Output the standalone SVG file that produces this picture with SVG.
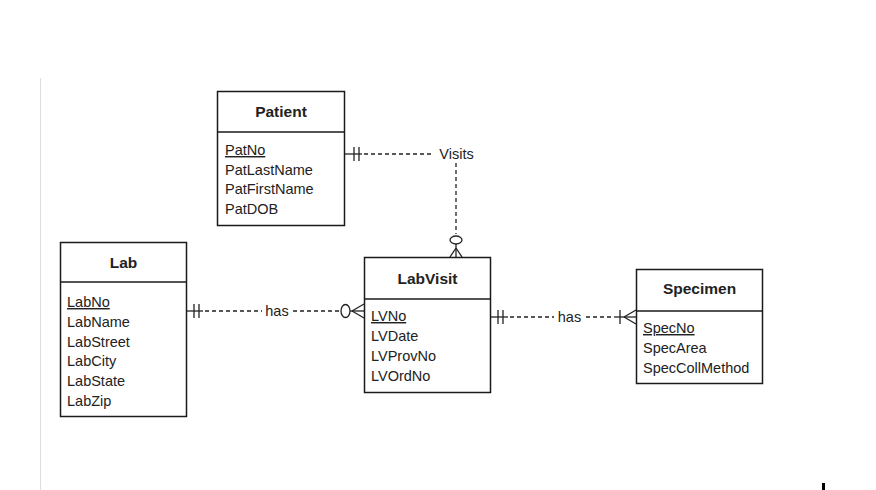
<svg xmlns="http://www.w3.org/2000/svg" width="876" height="490" viewBox="0 0 876 490">
<style>
.box{fill:#fff;stroke:#1a1a1a;stroke-width:1.5}
.div{stroke:#1a1a1a;stroke-width:1.5}
.title{font-family:"Liberation Sans",Arial,sans-serif;font-weight:bold;font-size:15.5px;fill:#222;text-anchor:middle}
.attr{font-family:"Liberation Sans",Arial,sans-serif;font-size:14.5px;fill:#222}
.pk{text-decoration:underline}
.lbl{font-family:"Liberation Sans",Arial,sans-serif;font-size:14.5px;fill:#222;text-anchor:middle}
.dash{stroke:#222;stroke-width:1.3;stroke-dasharray:4 3;fill:none}
.sol{stroke:#222;stroke-width:1.3;fill:none}
</style>
<rect width="876" height="490" fill="#fff"/>
<line x1="40.5" y1="78" x2="40.5" y2="490" stroke="#ddd" stroke-width="1"/>
<rect x="822" y="483" width="3" height="7" fill="#000"/>

<g id="connectors">
  <!-- Patient - LabVisit : Visits -->
  <g id="edge-visits">
    <line class="sol" x1="344" y1="154" x2="362" y2="154"/>
    <line class="sol" x1="354" y1="147" x2="354" y2="161"/>
    <line class="sol" x1="359" y1="147" x2="359" y2="161"/>
    <line class="dash" x1="364" y1="154" x2="434" y2="154"/>
    <text class="lbl" x="456.5" y="159">Visits</text>
    <line class="dash" x1="456" y1="163" x2="456" y2="234"/>
    <ellipse class="sol" cx="456" cy="240" rx="6" ry="4"/>
    <line class="sol" x1="456" y1="244" x2="456" y2="257"/>
    <line class="sol" x1="456" y1="248" x2="450" y2="257"/>
    <line class="sol" x1="456" y1="248" x2="462" y2="257"/>
  </g>
  <!-- Lab - LabVisit : has -->
  <g id="edge-lab-has">
    <line class="sol" x1="187" y1="311" x2="203" y2="311"/>
    <line class="sol" x1="194" y1="304" x2="194" y2="318"/>
    <line class="sol" x1="199" y1="304" x2="199" y2="318"/>
    <line class="dash" x1="205" y1="311" x2="262" y2="311"/>
    <text class="lbl" x="277" y="316">has</text>
    <line class="dash" x1="293" y1="311" x2="340" y2="311"/>
    <ellipse class="sol" cx="345.5" cy="311" rx="4.5" ry="6.5"/>
    <line class="sol" x1="350" y1="311" x2="364" y2="311"/>
    <line class="sol" x1="352" y1="311" x2="364" y2="304"/>
    <line class="sol" x1="352" y1="311" x2="364" y2="318"/>
  </g>
  <!-- LabVisit - Specimen : has -->
  <g id="edge-spec-has">
    <line class="sol" x1="491" y1="317" x2="508" y2="317"/>
    <line class="sol" x1="498" y1="310" x2="498" y2="324"/>
    <line class="sol" x1="503" y1="310" x2="503" y2="324"/>
    <line class="dash" x1="510" y1="317" x2="554" y2="317"/>
    <text class="lbl" x="569.5" y="322">has</text>
    <line class="dash" x1="586" y1="317" x2="614" y2="317"/>
    <line class="sol" x1="614" y1="317" x2="636" y2="317"/>
    <line class="sol" x1="620" y1="310" x2="620" y2="324"/>
    <line class="sol" x1="624" y1="317" x2="636" y2="310"/>
    <line class="sol" x1="624" y1="317" x2="636" y2="324"/>
  </g>
</g>

<g id="Patient">
  <rect class="box" x="217.5" y="91.5" width="127" height="134"/>
  <line class="div" x1="217.5" y1="132" x2="344.5" y2="132"/>
  <text class="title" x="281" y="117">Patient</text>
  <text class="attr pk" x="225" y="155">PatNo</text>
  <text class="attr" x="225" y="175">PatLastName</text>
  <text class="attr" x="225" y="194">PatFirstName</text>
  <text class="attr" x="225" y="213.5">PatDOB</text>
</g>

<g id="Lab">
  <rect class="box" x="60.5" y="242.5" width="126" height="174"/>
  <line class="div" x1="60.5" y1="282" x2="186.5" y2="282"/>
  <text class="title" x="123.5" y="268">Lab</text>
  <text class="attr pk" x="67" y="307">LabNo</text>
  <text class="attr" x="67" y="327">LabName</text>
  <text class="attr" x="67" y="346.5">LabStreet</text>
  <text class="attr" x="67" y="366">LabCity</text>
  <text class="attr" x="67" y="386">LabState</text>
  <text class="attr" x="67" y="405.5">LabZip</text>
</g>

<g id="LabVisit">
  <rect class="box" x="364.5" y="257.5" width="126" height="135"/>
  <line class="div" x1="364.5" y1="299" x2="490.5" y2="299"/>
  <text class="title" x="427.5" y="284">LabVisit</text>
  <text class="attr pk" x="371" y="321">LVNo</text>
  <text class="attr" x="371" y="341">LVDate</text>
  <text class="attr" x="371" y="361">LVProvNo</text>
  <text class="attr" x="371" y="381">LVOrdNo</text>
</g>

<g id="Specimen">
  <rect class="box" x="636.5" y="269.5" width="126" height="114"/>
  <line class="div" x1="636.5" y1="311" x2="762.5" y2="311"/>
  <text class="title" x="699.5" y="294">Specimen</text>
  <text class="attr pk" x="643" y="333">SpecNo</text>
  <text class="attr" x="643" y="353">SpecArea</text>
  <text class="attr" x="643" y="373">SpecCollMethod</text>
</g>
</svg>
